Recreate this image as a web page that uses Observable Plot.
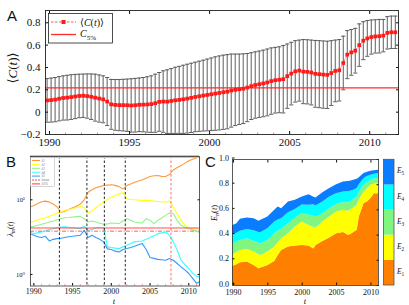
<!DOCTYPE html>
<html><head><meta charset="utf-8">
<script src="https://cdn.jsdelivr.net/npm/d3@7"></script>
<script src="https://cdn.jsdelivr.net/npm/@observablehq/plot@0.6"></script>
<style>
body{margin:0;background:#fff;}
#wrap{position:relative;width:409px;height:305px;overflow:hidden;background:#fff;}
#wrap svg{position:absolute;}
#wrap svg text, #wrap svg tspan{font-family:"Liberation Serif","DejaVu Serif",serif;}
#wrap svg text.sans{font-family:"Liberation Sans","DejaVu Sans",sans-serif;}
</style></head><body><div id="wrap"></div>
<script>
// ---------- Panel A data (quarterly) ----------
const aStart = 1989.85, aStep = 0.25;
const aMean = [0.105,0.108,0.112,0.12,0.127,0.13,0.135,0.14,0.145,0.147,
 0.144,0.138,0.13,0.122,0.115,0.095,0.07,0.065,0.063,0.063,
 0.062,0.06,0.062,0.066,0.067,0.069,0.072,0.08,0.092,0.095,
 0.094,0.1,0.106,0.11,0.115,0.121,0.128,0.136,0.142,0.148,
 0.154,0.16,0.166,0.172,0.178,0.183,0.193,0.2,0.205,0.21,
 0.22,0.233,0.243,0.25,0.257,0.266,0.278,0.286,0.29,0.295,
 0.322,0.345,0.365,0.372,0.363,0.361,0.355,0.343,0.34,0.336,
 0.334,0.35,0.369,0.375,0.44,0.515,0.535,0.55,0.6,0.64,
 0.66,0.672,0.678,0.68,0.685,0.71,0.715,0.715];
const aStd = [0.195,0.197,0.198,0.198,0.198,0.2,0.2,0.198,0.195,0.194,
 0.198,0.204,0.21,0.211,0.21,0.215,0.223,0.227,0.229,0.231,
 0.234,0.239,0.24,0.24,0.243,0.248,0.253,0.26,0.263,0.275,
 0.285,0.29,0.296,0.3,0.305,0.308,0.31,0.311,0.314,0.317,
 0.321,0.325,0.329,0.331,0.332,0.332,0.327,0.32,0.315,0.312,
 0.305,0.299,0.297,0.297,0.298,0.299,0.297,0.294,0.295,0.302,
 0.288,0.28,0.275,0.273,0.287,0.287,0.29,0.299,0.3,0.301,
 0.301,0.29,0.276,0.275,0.24,0.215,0.205,0.2,0.19,0.17,
 0.16,0.153,0.149,0.15,0.145,0.145,0.145,0.145];
const c5pct = 0.218;
const aXTicks = [1990,1995,2000,2005,2010];
const aYTicks = [-0.2,0,0.2,0.4,0.6,0.8];

// ---------- Panel B data ----------
const bYears = [1989.5,1990,1990.5,1991,1991.5,1992,1992.5,1993,1993.5,1994,1994.5,1995,1995.5,1996,1996.5,1997,1997.5,1998,1998.5,1999,1999.5,2000,2000.5,2001,2001.5,2002,2002.5,2003,2003.5,2004,2004.5,2005,2005.5,2006,2006.5,2007,2007.5,2008,2008.5,2009,2009.5,2010,2010.5,2011,2011.4];
const lambda1 = [7.98,8.4,8.9,9.4,9.6,9.3,8.8,8.0,6.8,7.0,7.4,7.8,8.2,8.8,10.0,12.6,13.6,14.5,15.0,15.5,15.7,15.9,15.6,15.0,14.0,15.5,16.3,17.2,17.9,18.5,19.5,20.5,21.0,21.1,20.6,20.5,21.8,25.1,27.0,28.7,31.0,33.4,35.0,36.3,37.8];
const lambda2 = [5.04,5.14,5.35,5.58,5.8,6.0,6.3,6.64,6.9,7.2,7.4,7.58,7.9,8.15,7.82,6.64,7.06,7.82,8.6,9.31,10.1,10.85,11.4,12.0,12.5,10.3,10.1,10.0,9.9,9.8,9.9,9.8,9.6,9.5,9.4,9.3,9.6,8.0,6.5,5.3,4.55,4.23,4.15,4.06,3.98];
const lambda3 = [4.33,4.41,4.55,4.69,4.85,5.04,5.2,5.41,5.6,5.75,5.8,5.87,5.95,5.99,5.58,5.04,5.19,5.04,4.85,4.69,4.75,4.89,4.85,4.79,5.19,5.58,5.3,5.04,4.95,4.89,5.58,5.3,4.79,5.3,5.7,6.18,6.64,6.5,5.3,4.55,4.3,4.1,3.95,3.82,3.59];
const lambda4 = [3.71,3.52,3.6,3.71,3.85,3.98,4.1,4.23,4.3,4.33,4.28,4.23,4.15,4.1,4.41,3.9,3.98,4.23,4.23,4.23,2.34,2.29,2.25,2.22,2.34,2.46,2.6,2.73,2.78,2.81,2.95,3.12,3.3,3.52,3.6,3.71,3.35,2.73,2.11,1.55,1.35,1.2,1.03,0.95,0.93];
const lambda5 = [3.52,3.35,3.2,3.12,3.24,2.81,2.95,3.02,3.05,3.12,3.2,3.24,3.3,3.35,3.9,3.12,3.35,3.12,2.95,2.73,2.2,2.16,2.05,2.0,2.16,2.22,2.3,2.39,2.5,2.59,2.16,1.69,1.64,1.59,1.57,1.55,1.64,1.55,1.4,1.26,1.15,1.03,0.885,0.76,0.8];
const lambdaMax = 3.8;
const lambda5pct = 4.19;
const bCrises = [1993.3,1996.85,1999.1,2001.8];
const bRedLine = [2007.7];
const bNames = ["λ1","λ2","λ3","λ4","λ5"];
const bColors = ["#ff9a3a","#ffff1a","#8cf58c","#33ffff","#3399ff"];
const bYTicks = [1,10];

// ---------- Panel C data ----------
const cYears = [1989.85,1990.5,1991,1992,1993,1993.7,1994,1995,1996,1996.5,1997,1998,1999,2000,2001,2001.7,2002,2003,2004,2005,2006,2006.7,2007,2007.5,2008,2008.3,2009,2009.5,2010,2010.5,2011.1];
const E1 = [0.150,0.165,0.18,0.186,0.159,0.133,0.138,0.159,0.191,0.239,0.278,0.305,0.313,0.318,0.313,0.29,0.318,0.35,0.377,0.41,0.42,0.398,0.403,0.42,0.438,0.544,0.65,0.663,0.69,0.729,0.729];
const E2 = [0.09,0.097,0.098,0.10,0.106,0.112,0.101,0.106,0.114,0.101,0.093,0.105,0.151,0.186,0.164,0.17,0.138,0.154,0.167,0.174,0.177,0.192,0.194,0.195,0.199,0.136,0.093,0.107,0.106,0.076,0.08];
const E3 = [0.09,0.083,0.08,0.085,0.085,0.09,0.093,0.093,0.105,0.09,0.075,0.08,0.07,0.07,0.08,0.09,0.088,0.066,0.066,0.058,0.061,0.065,0.066,0.065,0.066,0.06,0.053,0.045,0.039,0.04,0.04];
const E4 = [0.07,0.07,0.072,0.074,0.085,0.085,0.088,0.092,0.094,0.09,0.084,0.088,0.07,0.065,0.08,0.09,0.087,0.093,0.093,0.087,0.085,0.09,0.085,0.075,0.067,0.06,0.054,0.05,0.04,0.037,0.04];
const E5 = [0.075,0.075,0.095,0.091,0.095,0.09,0.097,0.094,0.093,0.103,0.08,0.085,0.072,0.064,0.083,0.06,0.064,0.074,0.067,0.071,0.079,0.08,0.08,0.08,0.073,0.055,0.039,0.033,0.032,0.028,0.026];
const eNames = ["E1","E2","E3","E4","E5"];
const eColors = ["#ff8000","#ffff00","#80f580","#00ffff","#0a7cff"];
const cXTicks = [1990,1995,2000,2005,2010];
const cYTicks = [0,0.2,0.4,0.6,0.8,1.0];

const serif = "'Liberation Serif', 'DejaVu Serif', serif";
const wrap = document.getElementById("wrap");
function place(svg, left, top){ svg.style.left = left+"px"; svg.style.top = top+"px"; wrap.appendChild(svg); }

// ---------- Panel A ----------
const aData = aMean.map((m,i)=>({t: aStart + i*aStep, m, s: aStd[i]}));
const plotA = Plot.plot({
  width: 409, height: 152,
  marginLeft: 45, marginRight: 11, marginTop: 10, marginBottom: 18,
  style: {fontFamily: serif, fontSize: "11px", background: "transparent", color: "#111"},
  x: {domain: [1989.75, 2011.8]},
  y: {domain: [-0.2, 0.91]},
  marks: [
    Plot.ruleX(aData, {x: "t", y1: d => d.m - d.s, y2: d => d.m + d.s, stroke: "#555", strokeWidth: 0.95, clip: true}),
    Plot.link(aData, {x1: d => d.t - 0.13, x2: d => d.t + 0.13, y1: d => d.m + d.s, y2: d => d.m + d.s, stroke: "#555", strokeWidth: 0.95, clip: true}),
    Plot.link(aData, {x1: d => d.t - 0.13, x2: d => d.t + 0.13, y1: d => d.m - d.s, y2: d => d.m - d.s, stroke: "#555", strokeWidth: 0.95, clip: true}),
    Plot.ruleY([c5pct], {stroke: "#ff2a2a", strokeWidth: 1.3}),
    Plot.line(aData, {x: "t", y: "m", stroke: "#e33", strokeWidth: 0.6, strokeDasharray: "2,1.5"}),
    Plot.dot(aData, {x: "t", y: "m", symbol: "square", r: 2.1, fill: "#ff1a1a", stroke: "none"}),
    Plot.axisX({ticks: d3.range(1990, 2012), tickSize: -1.5, stroke: "#f77", tickFormat: () => "", label: null}),
    Plot.axisX({ticks: aXTicks, tickSize: -3, tickPadding: 7, tickFormat: "d", label: null}),
    Plot.axisX({anchor: "top", ticks: aXTicks, tickSize: -3, tickFormat: () => "", label: null}),
    Plot.axisY({ticks: aYTicks, tickSize: -3, tickPadding: 8, tickFormat: d => d === 0 ? "0" : d3.format(".1f")(d), label: null}),
    Plot.axisY({anchor: "right", ticks: aYTicks, tickSize: -3, tickFormat: () => "", label: null}),
    Plot.frame({stroke: "#222", strokeWidth: 0.9})
  ]
});
place(plotA, 0, 0);

// ---------- Panel B ----------
const bSeries = [lambda1, lambda2, lambda3, lambda4, lambda5];
const bData = bSeries.flatMap((arr, k) => arr.map((v, i) => ({t: bYears[i], v, k: bNames[k]})));
const plotB = Plot.plot({
  width: 212, height: 157,
  marginLeft: 30, marginRight: 13, marginTop: 8, marginBottom: 19.5,
  style: {fontFamily: serif, fontSize: "8px", background: "transparent", color: "#111"},
  x: {domain: [1989.57, 2011.38]},
  y: {type: "log", domain: [0.70, 38]},
  color: {domain: bNames, range: bColors},
  marks: [
    Plot.line(bData, {x: "t", y: "v", z: "k", stroke: "k", strokeWidth: 1.1, clip: true}),
    Plot.ruleY([lambda5pct], {stroke: "#ff3b3b", strokeWidth: 0.9}),
    Plot.ruleY([lambdaMax], {stroke: "#ff4a4a", strokeWidth: 0.9, strokeDasharray: "4,1.5,1,1.5"}),
    Plot.ruleX(bCrises, {stroke: "#111", strokeWidth: 0.9, strokeDasharray: "2.5,2"}),
    Plot.ruleX(bRedLine, {stroke: "#ff5a5a", strokeWidth: 0.9, strokeDasharray: "2.5,2"}),
    Plot.ruleY([38], {stroke: "#c4c4c4", strokeWidth: 3}),
    Plot.axisX({ticks: d3.range(1990, 2012), tickSize: -1.5, stroke: "#f99", tickFormat: () => "", label: null}),
    Plot.axisX({ticks: aXTicks, tickSize: -2.5, tickPadding: 4.5, tickFormat: "d", label: null}),
    Plot.axisY({ticks: bYTicks, tickSize: -2.5, tickPadding: 8, tickFormat: d => d === 1 ? "10⁰" : "10¹", fontSize: 6.5, label: null}),
    Plot.axisY({anchor: "right", ticks: bYTicks, tickSize: -2.5, tickFormat: () => "", label: null}),
    Plot.frame({stroke: "#333", strokeWidth: 0.8})
  ]
});
place(plotB, 0, 148);

// ---------- Panel C ----------
const cLayers = [E1, E2, E3, E4, E5];
const cData = cLayers.flatMap((arr, k) => arr.map((v, i) => ({t: cYears[i], v, k: eNames[k]})));
const plotC = Plot.plot({
  width: 204, height: 157,
  marginLeft: 27, marginRight: 31, marginTop: 11, marginBottom: 20,
  style: {fontFamily: serif, fontSize: "8px", background: "transparent", color: "#111"},
  x: {domain: [1989.85, 2011.1]},
  y: {domain: [0, 1]},
  color: {domain: eNames, range: eColors},
  marks: [
    Plot.areaY(cData, {x: "t", y: "v", z: "k", fill: "k"}),
    Plot.axisX({ticks: cXTicks, tickSize: -2.5, tickPadding: 6, tickFormat: "d", label: null}),
    Plot.axisX({anchor: "top", ticks: cXTicks, tickSize: -2.5, tickFormat: () => "", label: null}),
    Plot.axisY({ticks: cYTicks, tickSize: -2.5, tickPadding: 6, tickFormat: d3.format(".1f"), label: null, dy: -1.5}),
    Plot.axisY({anchor: "right", ticks: cYTicks, tickSize: -2.5, tickFormat: () => "", label: null}),
    Plot.frame({stroke: "#333", strokeWidth: 0.8})
  ]
});
place(plotC, 205, 148);

// ---------- Overlay: labels, legends, colorbar ----------
const ov = d3.select(wrap).append("svg").attr("width", 409).attr("height", 305)
  .style("left", "0px").style("top", "0px").attr("font-family", serif);

function richText(g, parts, x, y, size, anchor) {
  const t = g.append("text").attr("x", x).attr("y", y).attr("font-size", size).attr("text-anchor", anchor || "start").attr("fill", "#111");
  parts.forEach(p => {
    const s = t.append("tspan").text(p.s);
    if (p.i) s.attr("font-style", "italic");
    if (p.sub) s.attr("font-size", size * 0.7).attr("dy", size * 0.28);
    if (p.up) s.attr("dy", -size * 0.28);
  });
  return t;
}

// panel letters
[["A", 7, 21], ["B", 6, 167], ["C", 205, 167]].forEach(([s, x, y]) => {
  ov.append("text").attr("class", "sans").attr("x", x).attr("y", y).attr("font-size", 15).attr("fill", "#111").text(s);
});

// y labels
const gA = ov.append("g").attr("transform", "translate(17,68) rotate(-90)");
richText(gA, [{s: "⟨"}, {s: "C", i: 1}, {s: "("}, {s: "t", i: 1}, {s: ")⟩"}], 0, 0, 13, "middle");
const gB = ov.append("g").attr("transform", "translate(13,229) rotate(-90)");
richText(gB, [{s: "λ", i: 1}, {s: "m", i: 1, sub: 1}, {s: "(", up: 1}, {s: "t", i: 1}, {s: ")"}], 0, 0, 8, "middle");
const gC = ov.append("g").attr("transform", "translate(217,213) rotate(-90)");
richText(gC, [{s: "E", i: 1}, {s: "n", i: 1, sub: 1}, {s: "(", up: 1}, {s: "t", i: 1}, {s: ")"}], 0, 0, 8.5, "middle");

// x labels "t"
richText(ov, [{s: "t", i: 1}], 114, 304, 8.5, "middle");
richText(ov, [{s: "t", i: 1}], 305, 304, 8.5, "middle");

// Legend A
ov.append("rect").attr("x", 48.5).attr("y", 13.5).attr("width", 64).attr("height", 29.5).attr("fill", "#fff").attr("stroke", "#222").attr("stroke-width", 0.8);
ov.append("line").attr("x1", 51).attr("x2", 76).attr("y1", 22).attr("y2", 22).attr("stroke", "#e33").attr("stroke-width", 0.8).attr("stroke-dasharray", "2.5,1.5");
ov.append("rect").attr("x", 61.5).attr("y", 20).attr("width", 4).attr("height", 4).attr("fill", "#ff1a1a");
richText(ov, [{s: "⟨"}, {s: "C", i: 1}, {s: "("}, {s: "t", i: 1}, {s: ")⟩"}], 80, 25.5, 10);
ov.append("line").attr("x1", 51).attr("x2", 76).attr("y1", 34.5).attr("y2", 34.5).attr("stroke", "#ff2a2a").attr("stroke-width", 1.3);
richText(ov, [{s: "C", i: 1}, {s: "5%", sub: 1}], 80, 37, 10);

// Legend B
ov.append("rect").attr("x", 30.5).attr("y", 157.5).attr("width", 24).attr("height", 29).attr("fill", "#fff").attr("stroke", "#aaa").attr("stroke-width", 0.5);
const bLegItems = [
  {c: bColors[0], lab: "λ1"}, {c: bColors[1], lab: "λ2"}, {c: bColors[2], lab: "λ3"},
  {c: bColors[3], lab: "λ4"}, {c: bColors[4], lab: "λ5"},
  {c: "#ff4a4a", lab: "λmax", dash: "2,1"}, {c: "#ff3b3b", lab: "λ5%"}
];
bLegItems.forEach((it, i) => {
  const y = 160.5 + i * 3.9;
  ov.append("line").attr("x1", 32).attr("x2", 40).attr("y1", y).attr("y2", y).attr("stroke", it.c).attr("stroke-width", 1).attr("stroke-dasharray", it.dash || null);
  ov.append("text").attr("x", 41.5).attr("y", y + 1.3).attr("font-size", 3.6).attr("font-style", "italic").attr("fill", "#777").text(it.lab);
});

// Colorbar C
const cb = d3.scaleBand().domain(eNames.slice().reverse()).range([159.3, 285]);
const cbColor = d3.scaleOrdinal(eNames, eColors);
eNames.forEach(n => {
  ov.append("rect").attr("x", 383.5).attr("y", cb(n)).attr("width", 10.5).attr("height", cb.bandwidth()).attr("fill", cbColor(n));
  richText(ov, [{s: "E", i: 1}, {s: n.slice(1), sub: 1}], 397, cb(n) + cb.bandwidth() / 2 + 1.5, 7.5);
});
ov.append("rect").attr("x", 383.5).attr("y", 159.3).attr("width", 10.5).attr("height", 125.7).attr("fill", "none").attr("stroke", "#555").attr("stroke-width", 0.8);
</script></body></html>
